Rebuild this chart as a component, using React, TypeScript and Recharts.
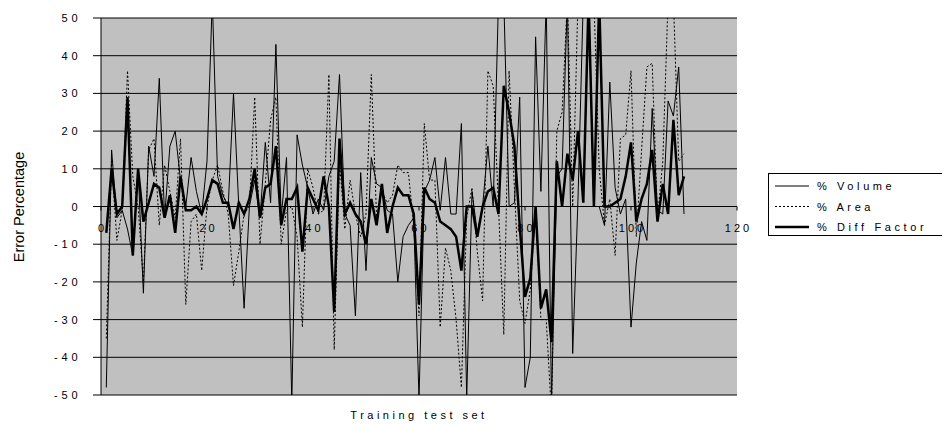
import React from 'react';
import { LineChart, Line, XAxis, YAxis, CartesianGrid, Legend } from 'recharts';

const W = 942;
const H = 425;
const Y_AXIS_W = 60;
const X_AXIS_H = 30;
const PLOT_LEFT = 101;
const PLOT_TOP = 18;
const PLOT_BOTTOM = 395;
const M = { top: PLOT_TOP, right: 205, bottom: H - PLOT_BOTTOM - X_AXIS_H, left: PLOT_LEFT - Y_AXIS_W };
const PLOT_H = PLOT_BOTTOM - PLOT_TOP;
const FONT = '"Liberation Sans", Arial, sans-serif';

// Training test set numbers (categories)
const setNumbers: number[] = Array.from({ length: 110 }, (_, i) => i + 1);

const volume: number[] = [
  -48, 15, -3, -1, -6, -13, 10, -23, 16, 8,
  34, -3, 16, 20, 7, 0, 13, 4, -2, 12,
  55, 8, 3, 0, 30, 0, -27, 0, 7, -3,
  17, 1, 43, -3, 13, -52, 19, 11, 5, -2,
  2, -1, 8, 12, 35, -2, -5, -29, 9, -17,
  13, 6, 5, -1, -2, -20, -8, -5, -3, -51,
  4, 7, 13, -1, 13, -2, -2, 22, -51, 4,
  -7, 0, 16, 0, 55, 55, 0, 1, 29, -48,
  -40, 45, 4, 55, -52, 8, 10, 55, -39, 2,
  55, 55, 0, 0, -5, 33, 5, -2, 2, -32,
  -15, -4, -9, 26, -1, -2, 28, 24, 37, -2,
];

const area: number[] = [
  -35, 12, -9, -1, 36, 8, 0, -20, 15, 18,
  -5, 11, 4, -3, 18, -26, -4, -2, -17, 0,
  7, 11, 4, -2, -21, -12, -2, 0, 29, -10,
  6, 23, 29, -10, -1, 0, -8, -32, 10, 5,
  -2, -1, 35, -38, 12, -6, 7, -2, -8, -2,
  35, -3, 4, 1, 3, 11, 9, 9, -5, -29,
  22, 7, 7, -32, -11, -17, -30, -48, -3, 5,
  -12, -25, 36, 32, 0, -34, 36, 5, -25, -31,
  -22, 0, -30, -30, -55, 20, 25, 55, 0, 55,
  55, 55, 55, 10, -5, 2, -13, 18, 19, 36,
  -8, 15, 37, 38, -3, 12, 55, 55, 12, 14,
];

const diffFactor: number[] = [
  -7, 10, -2, 0, 29, -13, 10, -4, 1, 6,
  5, -3, 3, -7, 8, -1, -1, 0, -2, 2,
  7, 6, 1, 1, -6, 1, -2, 2, 10, -3,
  5, 6, 16, -5, 2, 2, 5, -12, 5, 2,
  -1, 8, 0, -28, 18, -2, 1, -2, -4, -10,
  2, -5, 6, -7, 0, 5, 3, 3, -2, -26,
  5, 2, 1, -4, -5, -6, -8, -17, 0, 0,
  -8, 0, 4, 5, -2, 32, 25, 16, -5, -24,
  -19, 0, -27, -22, -36, 12, 0, 14, 7, 20,
  1, 55, 0, 55, 0, 0, 1, 2, 8, 17,
  -4, 2, 6, 15, -4, 6, -2, 23, 3, 8,
];

const xTicks: number[] = [0, 20, 40, 60, 80, 100, 120];
const yTicks: number[] = [-50, -40, -30, -20, -10, 0, 10, 20, 30, 40, 50];

const seriesNames = ['% Volume', '% Area', '% Diff Factor'];

const data = setNumbers.map((x, i) => ({
  x,
  volume: volume[i],
  area: area[i],
  diff: diffFactor[i],
}));

const spaced = (v: number | string) => {
  const s = String(v);
  if (s.startsWith('-')) return '- ' + s.slice(1).split('').join(' ');
  return s.split('').join(' ');
};

const XTick = (props: any) => {
  const { x, payload } = props;
  const zeroY = PLOT_TOP + PLOT_H / 2;
  return (
    <g>
      <line x1={x} x2={x} y1={zeroY} y2={zeroY + 4} stroke="#000" strokeWidth={1} />
      <text
        x={x}
        y={zeroY + 25}
        textAnchor="middle"
        fontSize={11}
        fontFamily={FONT}
        fill="#000"
      >
        {spaced(payload.value)}
      </text>
    </g>
  );
};

const YTick = (props: any) => {
  const { y, payload } = props;
  return (
    <g>
      <line x1={PLOT_LEFT - 8} x2={PLOT_LEFT} y1={y} y2={y} stroke="#000" strokeWidth={1} />
      <text
        x={PLOT_LEFT - 23}
        y={y + 4}
        textAnchor="end"
        fontSize={11}
        fontFamily={FONT}
        fill="#000"
        style={{ letterSpacing: '0.4px', whiteSpace: 'pre' }}
      >
        {spaced(payload.value)}
      </text>
    </g>
  );
};

const legendStyles = [
  { width: 1, dash: undefined as string | undefined },
  { width: 1, dash: '2 2' },
  { width: 2.5, dash: undefined as string | undefined },
];

const LegendBox = () => (
  <div
    style={{
      width: 200,
      height: 63,
      border: '1px solid #000',
      background: '#fff',
      boxSizing: 'border-box',
      position: 'relative',
    }}
  >
    <svg width={200} height={63} style={{ position: 'absolute', left: 0, top: 0 }}>
      {seriesNames.map((name, i) => {
        const cy = 12 + i * 20.5;
        return (
          <g key={name}>
            <line
              x1={6}
              x2={40}
              y1={cy}
              y2={cy}
              stroke="#000"
              strokeWidth={legendStyles[i].width}
              strokeDasharray={legendStyles[i].dash}
            />
            <text
              x={48}
              y={cy + 4}
              fontSize={11}
              fontFamily={FONT}
              fill="#000"
              style={{ letterSpacing: '3.6px', whiteSpace: 'pre' }}
            >
              {name}
            </text>
          </g>
        );
      })}
    </svg>
  </div>
);

export default function App() {
  return (
    <div
      style={{
        position: 'absolute',
        left: 0,
        top: 0,
        width: W,
        height: H,
        overflow: 'hidden',
        background: '#fff',
      }}
    >
      <LineChart width={W} height={H} data={data} margin={M}>
        <CartesianGrid
          vertical={false}
          horizontal={true}
          stroke="#000"
          strokeWidth={1}
          fill="#c0c0c0"
          fillOpacity={1}
        />
        <XAxis
          dataKey="x"
          type="number"
          domain={[0, 120]}
          ticks={xTicks}
          height={X_AXIS_H}
          axisLine={false}
          tickLine={false}
          tick={<XTick />}
          interval={0}
        />
        <YAxis
          type="number"
          domain={[-50, 50]}
          ticks={yTicks}
          allowDataOverflow
          width={Y_AXIS_W}
          axisLine={{ stroke: '#000', strokeWidth: 1 }}
          tickLine={false}
          tick={<YTick />}
          interval={0}
        />
        <Legend
          align="center"
          verticalAlign="middle"
          layout="vertical"
          wrapperStyle={{ position: 'absolute', left: 768, top: 173, width: 200, height: 63 }}
          content={() => <LegendBox />}
        />
        <Line
          dataKey="volume"
          name={seriesNames[0]}
          stroke="#000"
          strokeWidth={1}
          dot={false}
          isAnimationActive={false}
        />
        <Line
          dataKey="area"
          name={seriesNames[1]}
          stroke="#000"
          strokeWidth={1}
          strokeDasharray="2 2"
          dot={false}
          isAnimationActive={false}
        />
        <Line
          dataKey="diff"
          name={seriesNames[2]}
          stroke="#000"
          strokeWidth={2.5}
          dot={false}
          isAnimationActive={false}
        />
      </LineChart>
      <div
        style={{
          position: 'absolute',
          left: 19,
          top: 207,
          transform: 'translate(-50%, -50%) rotate(-90deg)',
          fontFamily: FONT,
          fontSize: 14.5,
          whiteSpace: 'nowrap',
          color: '#000',
        }}
      >
        Error Percentage
      </div>
      <div
        style={{
          position: 'absolute',
          left: 419,
          top: 415,
          transform: 'translate(-50%, -50%)',
          fontFamily: FONT,
          fontSize: 11,
          letterSpacing: '3.5px',
          whiteSpace: 'nowrap',
          color: '#000',
        }}
      >
        Training test set
      </div>
    </div>
  );
}
